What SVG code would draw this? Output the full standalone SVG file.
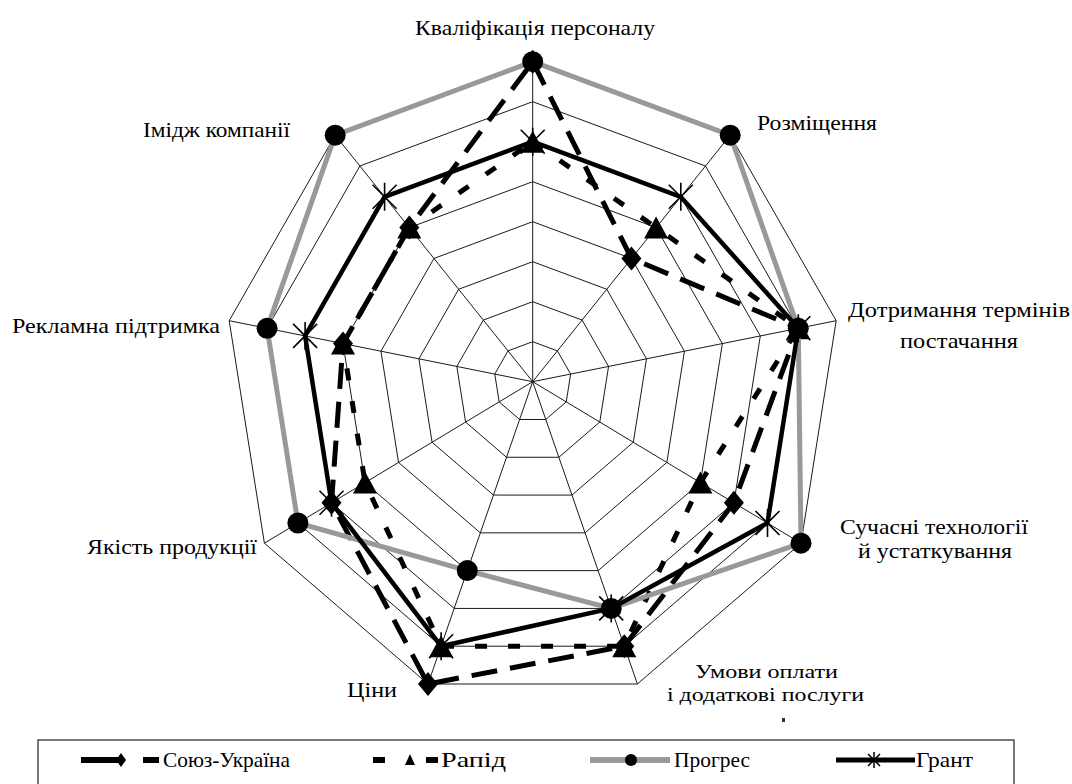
<svg xmlns="http://www.w3.org/2000/svg" width="1072" height="784" viewBox="0 0 1072 784">
<style>
.grid{fill:none;stroke:#1a1a1a;stroke-width:1}
.axis{stroke:#1a1a1a;stroke-width:1}
.lbl{font-family:'Liberation Serif','Times New Roman',serif;font-size:22px;fill:#000}
.sm{font-size:19px}
.ser{fill:none;stroke-linejoin:miter;stroke-miterlimit:10}
.soyuz{stroke:#000;stroke-width:5;stroke-dasharray:26 13}
.rapid{stroke:#000;stroke-width:5;stroke-dasharray:12 21}
.progress{stroke:#999;stroke-width:5}
.grant{stroke:#000;stroke-width:4.5}
</style>
<defs>
<polygon id="m-dia" points="0,-12 10,0 0,12 -10,0" fill="#000"/>
<polygon id="m-tri" points="0,-11 12,11 -12,11" fill="#000"/>
<circle id="m-cir" r="10.5" fill="#000"/>
<path id="m-ast" d="M-12,-12L12,12M12,-12L-12,12M0,-14V14" stroke="#000" stroke-width="1.6" fill="none"/>
</defs>
<rect width="1072" height="784" fill="#fff"/>
<g id="grid" transform="translate(532.7,381.7)">
<polygon class="grid" vector-effect="non-scaling-stroke" transform="scale(0.125)" points="0,-320 197.5,-246.5 303.5,-61 268.3,161.5 104.7,302.3 -104.7,302.3 -268.3,161.5 -303.5,-61 -197.5,-246.5"/>
<polygon class="grid" vector-effect="non-scaling-stroke" transform="scale(0.25)" points="0,-320 197.5,-246.5 303.5,-61 268.3,161.5 104.7,302.3 -104.7,302.3 -268.3,161.5 -303.5,-61 -197.5,-246.5"/>
<polygon class="grid" vector-effect="non-scaling-stroke" transform="scale(0.375)" points="0,-320 197.5,-246.5 303.5,-61 268.3,161.5 104.7,302.3 -104.7,302.3 -268.3,161.5 -303.5,-61 -197.5,-246.5"/>
<polygon class="grid" vector-effect="non-scaling-stroke" transform="scale(0.5)" points="0,-320 197.5,-246.5 303.5,-61 268.3,161.5 104.7,302.3 -104.7,302.3 -268.3,161.5 -303.5,-61 -197.5,-246.5"/>
<polygon class="grid" vector-effect="non-scaling-stroke" transform="scale(0.625)" points="0,-320 197.5,-246.5 303.5,-61 268.3,161.5 104.7,302.3 -104.7,302.3 -268.3,161.5 -303.5,-61 -197.5,-246.5"/>
<polygon class="grid" vector-effect="non-scaling-stroke" transform="scale(0.75)" points="0,-320 197.5,-246.5 303.5,-61 268.3,161.5 104.7,302.3 -104.7,302.3 -268.3,161.5 -303.5,-61 -197.5,-246.5"/>
<polygon class="grid" vector-effect="non-scaling-stroke" transform="scale(0.875)" points="0,-320 197.5,-246.5 303.5,-61 268.3,161.5 104.7,302.3 -104.7,302.3 -268.3,161.5 -303.5,-61 -197.5,-246.5"/>
<polygon class="grid" points="0,-320 197.5,-246.5 303.5,-61 268.3,161.5 104.7,302.3 -104.7,302.3 -268.3,161.5 -303.5,-61 -197.5,-246.5"/>
<path class="axis" d="M0,0L0,-320M0,0L197.5,-246.5M0,0L303.5,-61M0,0L268.3,161.5M0,0L104.7,302.3M0,0L-104.7,302.3M0,0L-268.3,161.5M0,0L-303.5,-61M0,0L-197.5,-246.5"/>
</g>
<g id="connectors" transform="translate(532.7,381.7)">
<g id="series-soyuz">
<polygon class="ser soyuz" points="0,-320 98.75,-123.25 265.6,-53.4 201.2,121.1 91.6,264.5 -104.7,302.3 -201.2,121.1 -189.7,-38.1 -123.4,-154.1"/>
<use href="#m-dia" x="0" y="-320"/>
<use href="#m-dia" x="98.75" y="-123.25"/>
<use href="#m-dia" x="265.6" y="-53.4"/>
<use href="#m-dia" x="201.2" y="121.1"/>
<use href="#m-dia" x="91.6" y="264.5"/>
<use href="#m-dia" x="-104.7" y="302.3"/>
<use href="#m-dia" x="-201.2" y="121.1"/>
<use href="#m-dia" x="-189.7" y="-38.1"/>
<use href="#m-dia" x="-123.4" y="-154.1"/>
</g>
<g id="series-rapid">
<polygon class="ser rapid" points="0,-240 123.4,-154.1 265.6,-53.4 167.7,100.9 91.6,264.5 -91.6,264.5 -167.7,100.9 -189.7,-38.1 -123.4,-154.1"/>
<use href="#m-tri" x="0" y="-240"/>
<use href="#m-tri" x="123.4" y="-154.1"/>
<use href="#m-tri" x="265.6" y="-53.4"/>
<use href="#m-tri" x="167.7" y="100.9"/>
<use href="#m-tri" x="91.6" y="264.5"/>
<use href="#m-tri" x="-91.6" y="264.5"/>
<use href="#m-tri" x="-167.7" y="100.9"/>
<use href="#m-tri" x="-189.7" y="-38.1"/>
<use href="#m-tri" x="-123.4" y="-154.1"/>
</g>
<g id="series-progress">
<polygon class="ser progress" points="0,-320 197.5,-246.5 265.6,-53.4 268.3,161.5 78.5,226.7 -65.4,188.9 -234.8,141.3 -265.6,-53.4 -197.5,-246.5"/>
<use href="#m-cir" x="0" y="-320"/>
<use href="#m-cir" x="197.5" y="-246.5"/>
<use href="#m-cir" x="265.6" y="-53.4"/>
<use href="#m-cir" x="268.3" y="161.5"/>
<use href="#m-cir" x="78.5" y="226.7"/>
<use href="#m-cir" x="-65.4" y="188.9"/>
<use href="#m-cir" x="-234.8" y="141.3"/>
<use href="#m-cir" x="-265.6" y="-53.4"/>
<use href="#m-cir" x="-197.5" y="-246.5"/>
</g>
<g id="series-grant">
<polygon class="ser grant" points="0,-240 148.1,-184.9 265.6,-53.4 234.8,141.3 78.5,226.7 -91.6,264.5 -201.2,121.1 -227.6,-45.8 -148.1,-184.9"/>
<use href="#m-ast" x="0" y="-240"/>
<use href="#m-ast" x="148.1" y="-184.9"/>
<use href="#m-ast" x="265.6" y="-53.4"/>
<use href="#m-ast" x="234.8" y="141.3"/>
<use href="#m-ast" x="78.5" y="226.7"/>
<use href="#m-ast" x="-91.6" y="264.5"/>
<use href="#m-ast" x="-201.2" y="121.1"/>
<use href="#m-ast" x="-227.6" y="-45.8"/>
<use href="#m-ast" x="-148.1" y="-184.9"/>
</g>
</g>
<g id="label-kvalifikatsiia"><text class="lbl" x="415" y="35" textLength="240" lengthAdjust="spacingAndGlyphs">Кваліфікація персоналу</text></g>
<g id="label-rozmishchennia"><text class="lbl" x="757" y="130" textLength="120" lengthAdjust="spacingAndGlyphs">Розміщення</text></g>
<g id="label-dotrymannia"><text class="lbl" x="848" y="317" textLength="222" lengthAdjust="spacingAndGlyphs">Дотримання термінів</text><text class="lbl" x="900" y="348" textLength="118" lengthAdjust="spacingAndGlyphs">постачання</text></g>
<g id="label-suchasni"><text class="lbl" x="840" y="534" textLength="188" lengthAdjust="spacingAndGlyphs">Сучасні технології</text><text class="lbl" x="858" y="558" textLength="154" lengthAdjust="spacingAndGlyphs">й устаткування</text></g>
<g id="label-umovy"><text class="lbl sm" x="695" y="678" textLength="143" lengthAdjust="spacingAndGlyphs">Умови оплати</text><text class="lbl sm" x="667" y="701" textLength="197" lengthAdjust="spacingAndGlyphs">і додаткові послуги</text></g>
<g id="label-tsiny"><text class="lbl" x="347" y="697" textLength="50" lengthAdjust="spacingAndGlyphs">Ціни</text></g>
<g id="label-yakist"><text class="lbl" x="87" y="554" textLength="170" lengthAdjust="spacingAndGlyphs">Якість продукції</text></g>
<g id="label-reklama"><text class="lbl" x="12" y="333" textLength="208" lengthAdjust="spacingAndGlyphs">Рекламна підтримка</text></g>
<g id="label-imidzh"><text class="lbl" x="143" y="137" textLength="147" lengthAdjust="spacingAndGlyphs">Імідж компанії</text></g>
<rect x="782" y="718" width="3" height="4" fill="#333"/>
<g id="legend">
<rect x="38" y="740" width="976" height="60" fill="none" stroke="#333" stroke-width="1.3"/>
<line x1="81" y1="760" x2="118" y2="760" stroke="#000" stroke-width="6"/>
<polygon points="121,753 126,760 121,767 116,760" fill="#000"/>
<line x1="143" y1="760" x2="159" y2="760" stroke="#000" stroke-width="6"/>
<text class="lbl" x="163" y="767" textLength="127" lengthAdjust="spacingAndGlyphs">Союз-Україна</text>
<line x1="373" y1="760" x2="385" y2="760" stroke="#000" stroke-width="6"/>
<polygon points="410,754 415,765 405,765" fill="#000"/>
<line x1="426" y1="760" x2="438" y2="760" stroke="#000" stroke-width="6"/>
<text class="lbl" x="441" y="767" textLength="65" lengthAdjust="spacingAndGlyphs">Рапід</text>
<line x1="590" y1="760" x2="670" y2="760" stroke="#999" stroke-width="6"/>
<circle cx="631" cy="760" r="6" fill="#000"/>
<text class="lbl" x="674" y="767" textLength="76" lengthAdjust="spacingAndGlyphs">Прогрес</text>
<line x1="836" y1="760" x2="915" y2="760" stroke="#000" stroke-width="5"/>
<path d="M868,754L880,766M880,754L868,766M874,752V768" stroke="#000" stroke-width="1.5"/>
<text class="lbl" x="916" y="767" textLength="57" lengthAdjust="spacingAndGlyphs">Грант</text>
</g>
</svg>
